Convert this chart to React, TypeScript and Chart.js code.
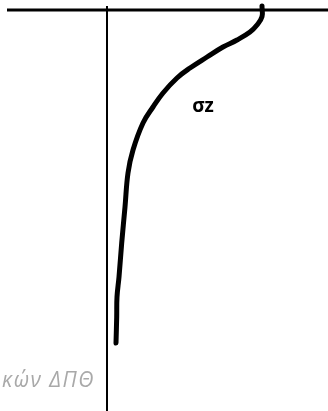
import React, { useEffect, useRef } from "react";
import { Chart, registerables } from "chart.js";

Chart.register(...registerables);

// stress σz (x) against depth z (y)
const curveStress = [15.5, 15.5, 15.0, 14.3, 13.0, 11.6, 10.0, 8.3, 7.0, 5.6, 4.6, 3.6, 2.6, 2.1, 1.8, 1.47, 1.2, 1.0, 0.97, 0.9];
const curveDepth = [-0.4, 0.67, 1.5, 2.2, 3.0, 3.7, 4.7, 5.8, 6.8, 8.3, 9.7, 11.3, 14.0, 16.3, 19.7, 23.3, 26.7, 28.7, 30.7, 33.3];

const surfaceX = [-10.0, 22.1];
const surfaceY = [0, 0];
const axisX = [0, 0];
const axisY = [-0.4, 40.1];

const curveLabel = "σz";
const curveLabelPos = [9.6, 10.2];
const watermark = "κών ΔΠΘ";

const X_MIN = -10.7;
const X_MAX = 22.1;
const Y_MIN = -1.0;
const Y_MAX = 40.1;

function pts(xs: number[], ys: number[]) {
  return xs.map((x, i) => ({ x, y: ys[i] }));
}

export default function App() {
  const ref = useRef<HTMLCanvasElement | null>(null);

  useEffect(() => {
    if (!ref.current) return;
    const labelPlugin = {
      id: "labels",
      afterDraw(chart: any) {
        const ctx = chart.ctx;
        const xs = chart.scales.x;
        const ys = chart.scales.y;
        ctx.save();
        ctx.fillStyle = "#000";
        ctx.font = "bold 19px 'Open Sans'";
        ctx.textAlign = "center";
        ctx.textBaseline = "alphabetic";
        ctx.fillText(curveLabel, xs.getPixelForValue(curveLabelPos[0]), ys.getPixelForValue(curveLabelPos[1]));
        ctx.fillStyle = "#a9a9a9";
        ctx.font = "italic 21px 'Open Sans'";
        (ctx as any).letterSpacing = "1.5px";
        ctx.textAlign = "right";
        ctx.fillText(watermark, 95, 387);
        ctx.restore();
      },
    };
    const chart = new Chart(ref.current, {
      type: "scatter",
      data: {
        datasets: [
          {
            data: pts(surfaceX, surfaceY),
            showLine: true,
            borderColor: "#000",
            borderWidth: 3,
            pointRadius: 0,
          },
          {
            data: pts(axisX, axisY),
            showLine: true,
            borderColor: "#000",
            borderWidth: 2,
            pointRadius: 0,
          },
          {
            data: pts(curveStress, curveDepth),
            showLine: true,
            borderColor: "#000",
            borderWidth: 5,
            borderCapStyle: "round",
            borderJoinStyle: "round",
            tension: 0.4,
            pointRadius: 0,
          } as any,
        ],
      },
      options: {
        animation: false,
        responsive: false,
        layout: { padding: 0 },
        plugins: { legend: { display: false }, tooltip: { enabled: false } },
        scales: {
          x: { type: "linear", min: X_MIN, max: X_MAX, display: false },
          y: { type: "linear", min: Y_MIN, max: Y_MAX, reverse: true, display: false },
        },
      },
      plugins: [labelPlugin],
    });
    return () => chart.destroy();
  }, []);

  return (
    <div style={{ position: "absolute", left: 0, top: 0, width: 328, height: 411, background: "#fff" }}>
      <canvas ref={ref} width={328} height={411} style={{ width: 328, height: 411 }} />
    </div>
  );
}
